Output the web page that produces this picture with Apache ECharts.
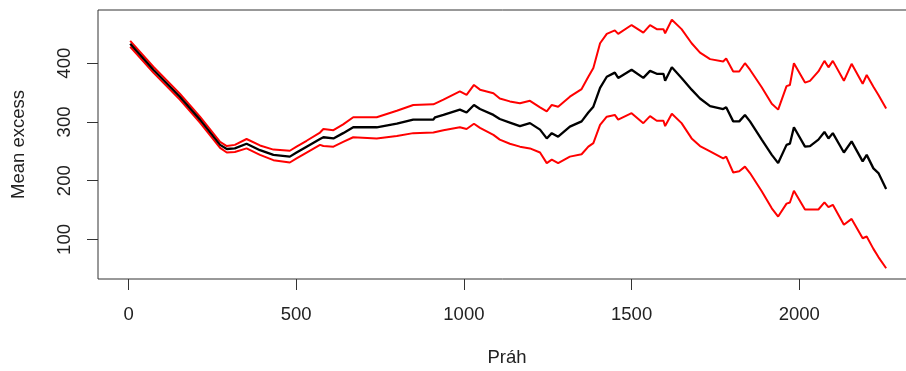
<!DOCTYPE html>
<html>
<head>
<meta charset="utf-8">
<script src="https://cdn.jsdelivr.net/npm/echarts@6/dist/echarts.min.js"></script>
<style>
  html, body { margin: 0; padding: 0; background: #fff; }
  #chart { width: 906px; height: 371px; }
</style>
</head>
<body>
<div id="chart"></div>
<script>
// prahy (threshold) a odhady mean excess, horni a dolni mez
var prah = [5, 74, 153, 213, 273, 293, 317, 352, 392, 432, 481, 501, 531, 571, 581, 611, 640, 670, 740, 800,
    849, 909, 914, 939, 988, 1008, 1030, 1048, 1088, 1107, 1137, 1167, 1197, 1227, 1247, 1262, 1281, 1316, 1351, 1371,
    1386, 1406, 1426, 1450, 1460, 1500, 1535, 1555, 1575, 1595, 1600, 1620, 1649, 1679, 1704, 1734, 1773, 1782, 1803, 1821,
    1838, 1853, 1888, 1918, 1937, 1962, 1972, 1984, 2017, 2032, 2057, 2075, 2087, 2100, 2133, 2156, 2189, 2201, 2221, 2236, 2259];
var meanExcess = [433, 389, 343, 304, 261, 254, 255, 263, 252, 244, 241, 248, 258, 271, 274, 272, 281, 291, 291, 297,
    304, 304, 308, 312, 321, 316, 329, 322, 312, 305, 299, 293, 298, 287, 272, 281, 275, 292, 301, 316,
    326, 358, 377, 384, 375, 389, 375, 387, 382, 382, 370, 393, 375, 355, 340, 327, 322, 325, 301, 301,
    312, 301, 270, 244, 230, 261, 263, 291, 258, 259, 270, 283, 272, 281, 248, 267, 233, 244, 221, 213, 186];
var horni = [438, 394, 348, 309, 266, 259, 261, 271, 260, 253, 251, 258, 268, 282, 288, 286, 296, 308, 308, 319,
    329, 330, 333, 338, 352, 346, 363, 355, 349, 340, 335, 332, 336, 325, 318, 329, 326, 343, 356, 377,
    392, 434, 450, 456, 450, 465, 452, 465, 458, 458, 451, 474, 458, 434, 418, 407, 403, 408, 386, 386,
    400, 389, 359, 331, 321, 361, 363, 400, 367, 370, 386, 404, 393, 404, 370, 399, 365, 380, 360, 346, 323];
var dolni = [428, 384, 338, 299, 256, 248, 249, 255, 244, 235, 231, 238, 248, 261, 259, 258, 266, 274, 272, 276,
    281, 282, 284, 286, 291, 288, 297, 290, 278, 270, 263, 258, 255, 248, 230, 236, 230, 241, 245, 258,
    264, 295, 309, 312, 304, 315, 298, 310, 302, 302, 293, 314, 298, 272, 259, 250, 238, 241, 214, 216,
    224, 213, 182, 153, 139, 161, 163, 183, 151, 151, 151, 163, 155, 159, 125, 135, 102, 105, 84, 70, 51];
var xTicks = [0, 500, 1000, 1500, 2000];
var yTicks = [100, 200, 300, 400];

function pary(ys) {
    var out = [];
    for (var i = 0; i < prah.length; i++) {
        out.push([prah[i], ys[i]]);
    }
    return out;
}

var font = 'Liberation Sans, Arial, sans-serif';
var myChart = echarts.init(document.getElementById('chart'));
myChart.setOption({
    animation: false,
    grid: {
        left: 98,
        top: 10,
        width: 818,
        height: 269,
        outerBoundsMode: 'none',
        containLabel: false,
        show: true,
        borderColor: '#333',
        borderWidth: 1
    },
    xAxis: {
        type: 'value',
        min: -91,
        max: 2348,
        name: 'Práh',
        nameLocation: 'middle',
        nameGap: 69,
        nameMoveOverlap: false,
        nameTextStyle: { fontSize: 18.5, color: '#222', fontFamily: font },
        axisLine: { show: false, onZero: false },
        splitLine: { show: false },
        axisTick: {
            show: true,
            length: 11,
            customValues: xTicks,
            lineStyle: { color: '#333' }
        },
        axisLabel: {
            customValues: xTicks,
            margin: 26,
            fontSize: 18.5,
            color: '#222',
            fontFamily: font,
            formatter: function (v) { return String(v); }
        }
    },
    yAxis: {
        type: 'value',
        min: 32.7,
        max: 490.6,
        name: 'Mean excess',
        nameLocation: 'middle',
        nameGap: 70,
        nameMoveOverlap: false,
        nameTextStyle: { fontSize: 18.5, color: '#222', fontFamily: font },
        axisLine: { show: false, onZero: false },
        splitLine: { show: false },
        axisTick: {
            show: true,
            length: 11,
            customValues: yTicks,
            lineStyle: { color: '#333' }
        },
        axisLabel: {
            customValues: yTicks,
            rotate: 90,
            margin: 24,
            fontSize: 18.5,
            color: '#222',
            fontFamily: font,
            formatter: function (v) { return String(v); }
        }
    },
    series: [
        {
            name: 'horni',
            type: 'line',
            data: pary(horni),
            showSymbol: false,
            lineStyle: { color: '#ff0000', width: 2 }
        },
        {
            name: 'dolni',
            type: 'line',
            data: pary(dolni),
            showSymbol: false,
            lineStyle: { color: '#ff0000', width: 2 }
        },
        {
            name: 'mean excess',
            type: 'line',
            data: pary(meanExcess),
            showSymbol: false,
            lineStyle: { color: '#000', width: 2.3 }
        }
    ]
});
</script>
</body>
</html>
